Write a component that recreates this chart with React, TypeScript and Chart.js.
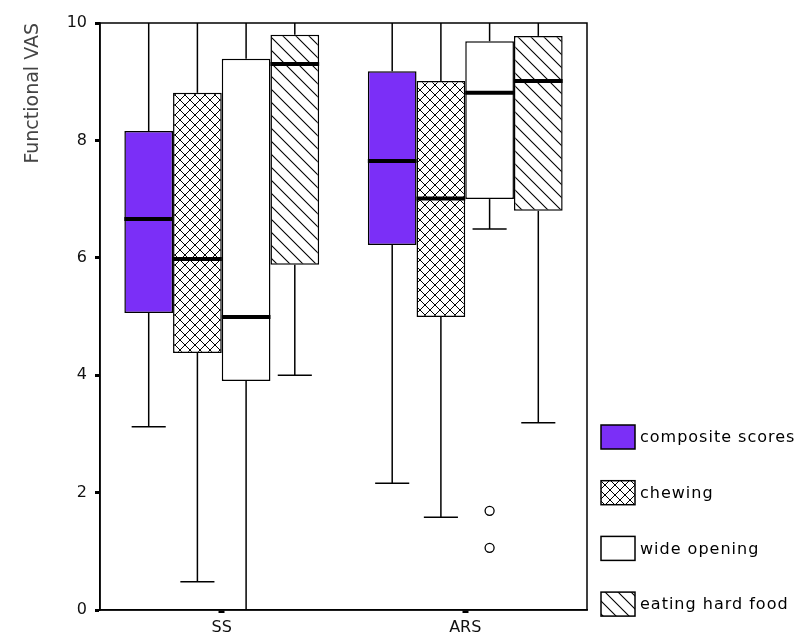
import React, { useEffect, useRef } from 'react';
import { Chart, registerables } from 'chart.js';

Chart.register(...registerables);

// ---- data ----
const categories = ['SS', 'ARS'];
const seriesNames = ['composite scores', 'chewing', 'wide opening', 'eating hard food'];
// each entry per category: [lower whisker, Q1, median, Q3, upper whisker]
const compositeScores = [
  [3.12, 5.06, 6.66, 8.16, 10],
  [2.16, 6.22, 7.65, 9.18, 10],
];
const chewing = [
  [0.48, 4.38, 5.98, 8.81, 10],
  [1.58, 4.99, 7.01, 9.01, 10],
];
const wideOpening = [
  [0.0, 3.9, 4.99, 9.39, 10],
  [6.49, 7.0, 8.81, 9.69, 10],
];
const eatingHardFood = [
  [4.0, 5.88, 9.3, 9.8, 10],
  [3.19, 6.8, 9.01, 9.78, 10],
];
// outliers per category
const compositeOutliers = [[], []];
const chewingOutliers = [[], []];
const wideOpeningOutliers = [[], [1.69, 1.06]];
const eatingOutliers = [[], []];
const yTicks = [0, 2, 4, 6, 8, 10];

const allStats = [compositeScores, chewing, wideOpening, eatingHardFood];
const allOutliers = [compositeOutliers, chewingOutliers, wideOpeningOutliers, eatingOutliers];

const FONT = 'DejaVu Sans';

function makeCross(ctx: CanvasRenderingContext2D) {
  const n = 10;
  const c = document.createElement('canvas');
  c.width = n;
  c.height = n;
  const g = c.getContext('2d')!;
  g.fillStyle = '#fff';
  g.fillRect(0, 0, n, n);
  g.strokeStyle = '#000';
  g.lineWidth = 1;
  g.beginPath();
  g.moveTo(-1, -1);
  g.lineTo(n + 1, n + 1);
  g.moveTo(n + 1, -1);
  g.lineTo(-1, n + 1);
  g.stroke();
  g.fillStyle = '#000';
  const h = n / 2;
  g.fillRect(h - 1, h - 1, 2, 2);
  g.fillRect(0, 0, 1, 1);
  g.fillRect(n - 1, 0, 1, 1);
  g.fillRect(0, n - 1, 1, 1);
  g.fillRect(n - 1, n - 1, 1, 1);
  return ctx.createPattern(c, 'repeat')!;
}

function makeHatch(ctx: CanvasRenderingContext2D) {
  const n = 13;
  const c = document.createElement('canvas');
  c.width = n;
  c.height = n;
  const g = c.getContext('2d')!;
  g.fillStyle = '#fff';
  g.fillRect(0, 0, n, n);
  g.strokeStyle = '#000';
  g.lineWidth = 1.1;
  g.beginPath();
  g.moveTo(-1, -1);
  g.lineTo(n + 1, n + 1);
  g.moveTo(-1, n - 1);
  g.lineTo(1, n + 1);
  g.moveTo(n - 1, -1);
  g.lineTo(n + 1, 1);
  g.stroke();
  return ctx.createPattern(c, 'repeat')!;
}

const boxPlugin = {
  id: 'boxDecor',
  afterDatasetsDraw(chart: any) {
    const ctx = chart.ctx as CanvasRenderingContext2D;
    const ys = chart.scales.y;
    const Y = (v: number) => ys.getPixelForValue(v);
    const line = (x1: number, y1: number, x2: number, y2: number) => {
      ctx.beginPath();
      ctx.moveTo(x1, y1);
      ctx.lineTo(x2, y2);
      ctx.stroke();
    };
    chart.data.datasets.forEach((ds: any, di: number) => {
      const meta = chart.getDatasetMeta(di);
      meta.data.forEach((bar: any, ci: number) => {
        const s = allStats[di][ci];
        const x = bar.x;
        const w = bar.width;
        const cap = w * 0.7;
        ctx.save();
        ctx.strokeStyle = '#000';
        ctx.lineWidth = 1.5;
        line(x, Y(s[3]), x, Y(s[4]));
        line(x, Y(s[1]), x, Y(s[0]));
        if (s[0] > ys.min) line(x - cap / 2, Y(s[0]), x + cap / 2, Y(s[0]));
        if (s[4] < ys.max) line(x - cap / 2, Y(s[4]), x + cap / 2, Y(s[4]));
        ctx.lineWidth = 4;
        line(x - w / 2, Y(s[2]), x + w / 2, Y(s[2]));
        ctx.lineWidth = 1.3;
        allOutliers[di][ci].forEach((v: number) => {
          ctx.beginPath();
          ctx.arc(x, Y(v), 4.5, 0, Math.PI * 2);
          ctx.fillStyle = '#fff';
          ctx.fill();
          ctx.stroke();
        });
        ctx.restore();
      });
    });
  },
  afterDraw(chart: any) {
    const ctx = chart.ctx as CanvasRenderingContext2D;
    const a = chart.chartArea;
    ctx.save();
    ctx.strokeStyle = '#000';
    ctx.lineWidth = 1.5;
    ctx.strokeRect(a.left, a.top, a.right - a.left, a.bottom - a.top);
    // legend
    const x0 = a.right + 14;
    const top0 = a.bottom - 185;
    const gap = 55.7;
    chart.data.datasets.forEach((ds: any, i: number) => {
      const yTop = top0 + i * gap;
      ctx.fillStyle = ds.backgroundColor;
      ctx.fillRect(x0, yTop, 34, 24);
      ctx.lineWidth = 1.5;
      ctx.strokeStyle = '#000';
      ctx.strokeRect(x0, yTop, 34, 24);
      ctx.fillStyle = '#000';
      ctx.font = `16px "${FONT}"`;
      (ctx as any).letterSpacing = '1px';
      ctx.textAlign = 'left';
      ctx.textBaseline = 'middle';
      ctx.fillText(ds.label, x0 + 39, yTop + 13);
      (ctx as any).letterSpacing = '0px';
    });
    ctx.restore();
  },
};

export default function App() {
  const ref = useRef<HTMLCanvasElement>(null);
  useEffect(() => {
    document.body.style.margin = '0';
    const canvas = ref.current!;
    const ctx = canvas.getContext('2d')!;
    const fills: any[] = ['#7B2FF7', makeCross(ctx), '#FFFFFF', makeHatch(ctx)];
    const chart = new Chart(canvas, {
      type: 'bar',
      data: {
        labels: categories,
        datasets: seriesNames.map((name, i) => ({
          label: name,
          data: allStats[i].map((s) => [s[1], s[3]]),
          backgroundColor: fills[i],
          borderColor: '#000',
          borderWidth: 1.5,
          borderSkipped: false,
          categoryPercentage: 0.8,
          barPercentage: 1.0,
        })),
      } as any,
      options: {
        responsive: false,
        animation: false,
        layout: { padding: { top: 23, right: 212, left: 0, bottom: 0 } },
        plugins: { legend: { display: false }, tooltip: { enabled: false } },
        scales: {
          x: {
            type: 'category',
            offset: true,
            grid: {
              display: true,
              drawOnChartArea: false,
              offset: false,
              tickLength: 3,
              tickWidth: 6,
              tickColor: '#000',
            },
            border: { display: true, color: '#000', width: 1.5 },
            ticks: { font: { family: FONT, size: 16 }, color: '#111', padding: 5 },
            afterFit: (s: any) => {
              s.height = 27;
            },
          },
          y: {
            min: 0,
            max: 10,
            afterBuildTicks: (s: any) => {
              s.ticks = yTicks.map((v) => ({ value: v }));
            },
            grid: {
              drawOnChartArea: false,
              tickLength: 5,
              tickWidth: 3,
              tickColor: '#000',
            },
            border: { display: true, color: '#000', width: 1.5 },
            ticks: { font: { family: FONT, size: 16 }, color: '#111', padding: 8 },
            title: {
              display: true,
              text: 'Functional VAS',
              align: 'end',
              color: '#444',
              font: { family: FONT, size: 19 },
              padding: { top: 22, bottom: 0 },
            },
            afterFit: (s: any) => {
              s.width = 100;
            },
          },
        },
      } as any,
      plugins: [boxPlugin],
    });
    return () => chart.destroy();
  }, []);
  return <canvas ref={ref} width={799} height={637} style={{ display: 'block' }} />;
}
